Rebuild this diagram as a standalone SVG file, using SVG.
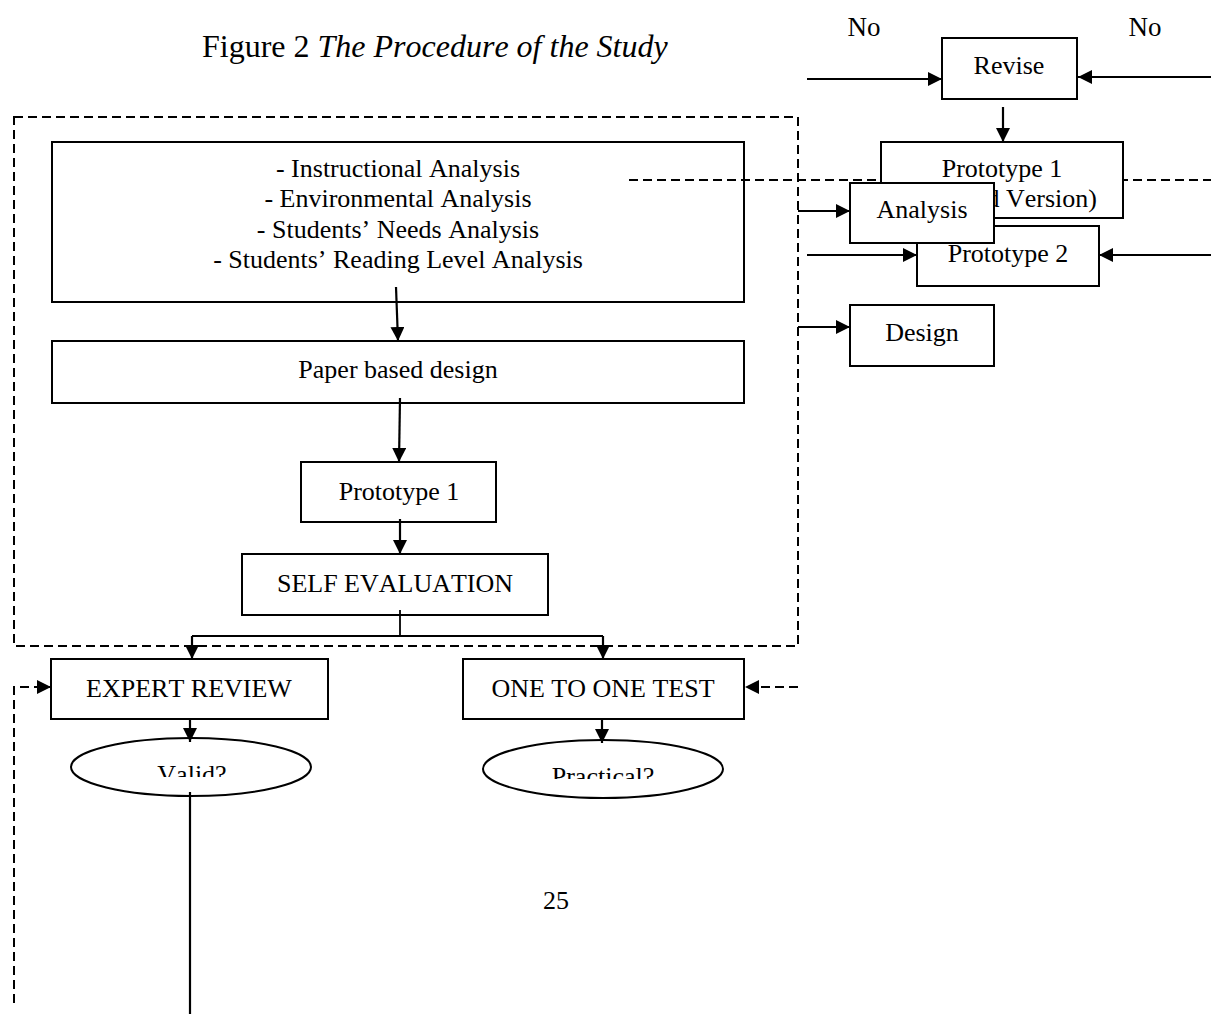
<svg xmlns="http://www.w3.org/2000/svg" width="1211" height="1014" viewBox="0 0 1211 1014">
<style>
  text { font-family: "Liberation Serif", "Times New Roman", serif; font-size: 26px; fill: #000; text-anchor: middle; font-kerning: none; }
  .box { fill: #fff; stroke: #000; stroke-width: 2; }
  .open { fill: none; stroke: #000; stroke-width: 2; }
  .line { fill: none; stroke: #000; stroke-width: 2.2; }
  .thin { fill: none; stroke: #000; stroke-width: 1.8; }
  .dash { fill: none; stroke: #000; stroke-width: 2; stroke-dasharray: 9 5; }
  .arrow { marker-end: url(#ah); }
</style>
<defs>
  <marker id="ah" markerUnits="userSpaceOnUse" markerWidth="15" markerHeight="15" refX="14" refY="7" orient="auto">
    <path d="M0,0 L14,7 L0,14 z" fill="#000"/>
  </marker>
  <clipPath id="clipValid"><rect x="60" y="740" width="260" height="37"/></clipPath>
  <clipPath id="clipPractical"><rect x="480" y="740" width="250" height="39"/></clipPath>
</defs>
<rect width="1211" height="1014" fill="#fff"/>

<g id="title">
  <text x="202" y="57" style="text-anchor:start;font-size:32px">Figure 2 <tspan font-style="italic">The Procedure of the Study</tspan></text>
</g>

<g id="labels">
  <text x="864" y="36" style="font-size:27px">No</text>
  <text x="1145" y="36" style="font-size:27px">No</text>
  <text x="556" y="909">25</text>
</g>

<g id="phase-boundary">
  <rect x="14" y="117" width="784" height="529" class="dash"/>
</g>

<g id="analysis-list">
  <rect x="52" y="142" width="692" height="160" class="open"/>
  <text x="398" y="177">- Instructional Analysis</text>
  <text x="398" y="207">- Environmental Analysis</text>
  <text x="398" y="238">- Students’ Needs Analysis</text>
  <text x="398" y="268">- Students’ Reading Level Analysis</text>
</g>

<g id="paper-design">
  <rect x="52" y="341" width="692" height="62" class="box"/>
  <text x="398" y="378">Paper based design</text>
</g>

<g id="prototype1">
  <rect x="301" y="462" width="195" height="60" class="box"/>
  <text x="399" y="500">Prototype 1</text>
</g>

<g id="self-evaluation">
  <rect x="242" y="554" width="306" height="61" class="box"/>
  <text x="395" y="592">SELF EVALUATION</text>
</g>

<g id="expert-review">
  <rect x="51" y="659" width="277" height="60" class="box"/>
  <text x="189" y="697">EXPERT REVIEW</text>
</g>

<g id="one-to-one">
  <rect x="463" y="659" width="281" height="60" class="box"/>
  <text x="603" y="697">ONE TO ONE TEST</text>
</g>

<g id="valid">
  <ellipse cx="191" cy="767" rx="120" ry="29" class="box"/>
  <text x="192" y="783" clip-path="url(#clipValid)">Valid?</text>
</g>

<g id="practical">
  <ellipse cx="603" cy="769" rx="120" ry="29" class="box"/>
  <text x="603" y="785" clip-path="url(#clipPractical)">Practical?</text>
</g>

<g id="connectors">
  <path d="M396,287 L398,341" class="line arrow"/>
  <path d="M400,398 L399,462" class="line arrow"/>
  <path d="M400,519 L400,554" class="line arrow"/>
  <path d="M400,610 L400,636" class="thin"/>
  <path d="M192,636 L603,636" class="thin"/>
  <path d="M192,636 L192,659" class="line arrow"/>
  <path d="M603,636 L603,659" class="line arrow"/>
  <path d="M190,719 L190,742" class="line arrow"/>
  <path d="M602,719 L602,743" class="line arrow"/>
  <path d="M190,792 L190,1014" class="line"/>
  <path d="M14,1003 L14,687 L51,687" class="dash arrow"/>
  <path d="M798,687 L745,687" class="dash arrow"/>
  <path d="M629,180 L1211,180" class="dash"/>
  <path d="M807,79 L942,79" class="line arrow"/>
  <path d="M1211,77 L1078,77" class="line arrow"/>
  <path d="M1003,107 L1003,142" class="line arrow"/>
  <path d="M798,211 L850,211" class="line arrow"/>
  <path d="M798,327 L850,327" class="line arrow"/>
  <path d="M807,255 L917,255" class="line arrow"/>
  <path d="M1211,255 L1099,255" class="line arrow"/>
</g>

<g id="revise">
  <rect x="942" y="38" width="135" height="61" class="box"/>
  <text x="1009" y="74">Revise</text>
</g>

<g id="prototype1-revised">
  <rect x="881" y="142" width="242" height="76" class="box"/>
  <text x="1002" y="177">Prototype 1</text>
  <text x="1002" y="207">(Revised Version)</text>
</g>

<g id="prototype2">
  <rect x="917" y="226" width="182" height="60" class="box"/>
  <text x="1008" y="262">Prototype 2</text>
</g>

<g id="analysis">
  <rect x="850" y="183" width="144" height="60" class="box"/>
  <text x="922" y="218">Analysis</text>
</g>

<g id="design">
  <rect x="850" y="305" width="144" height="61" class="box"/>
  <text x="922" y="341">Design</text>
</g>
</svg>
